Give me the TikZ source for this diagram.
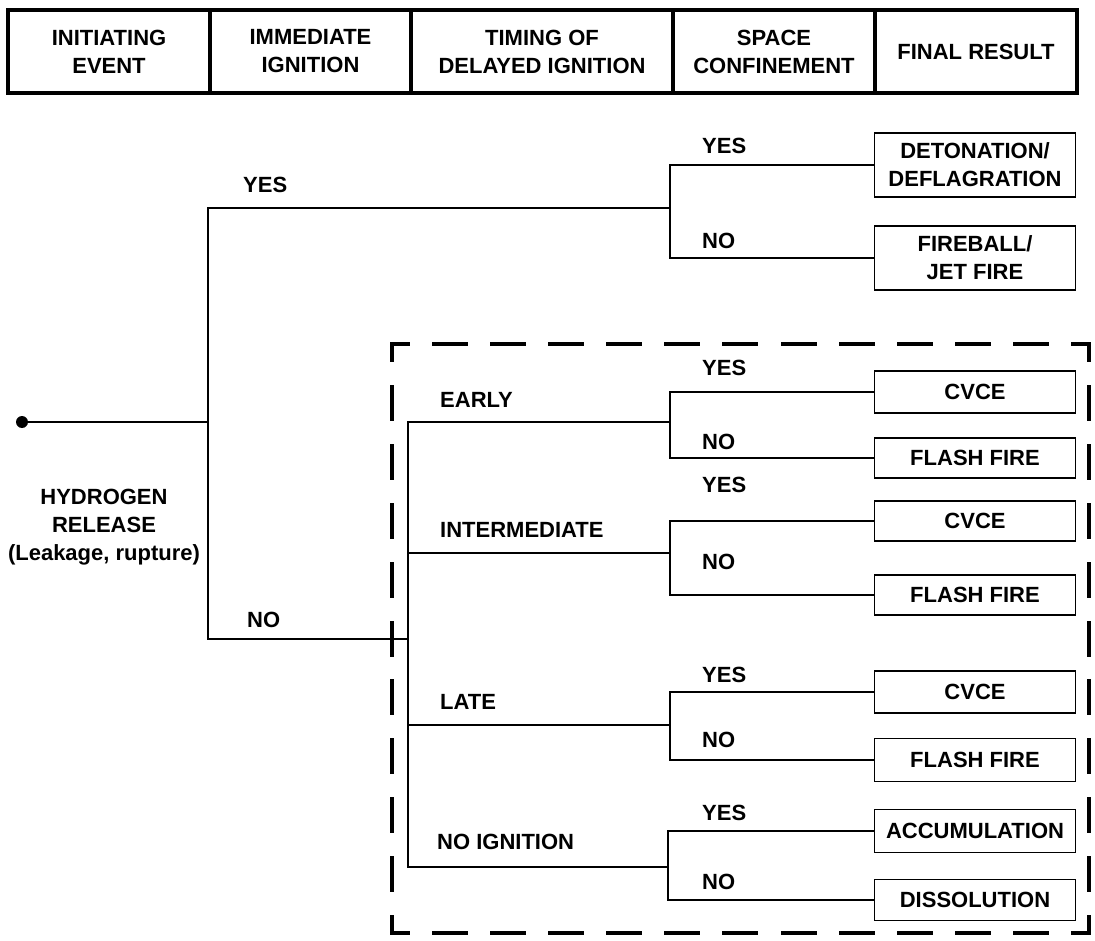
\documentclass[tikz,border=0pt]{standalone}
\usepackage{fontspec}
\setmainfont{Liberation Sans}
\usetikzlibrary{positioning}

\begin{document}
\begin{tikzpicture}[x=1pt, y=-1pt, every node/.style={font=\bfseries\fontsize{22}{28}\selectfont}]
\tikzstyle{head}=[draw, line width=3.5pt, minimum height=83pt, inner sep=0pt, outer sep=0pt, align=center]
\tikzstyle{result}=[draw, line width=1.3pt, minimum width=201pt, inner sep=0pt, align=center]
\tikzstyle{lbl}=[anchor=west, inner sep=0pt]
\tikzstyle{branch}=[line width=1.2pt]
\tikzstyle{hdash}=[line width=4pt, line cap=rect, dash pattern=on 32pt off 26.08pt, dash phase=16pt]
\tikzstyle{vdash}=[line width=4pt, line cap=rect, dash pattern=on 32pt off 26.9pt, dash phase=16pt]
\useasboundingbox (0,0) rectangle (1095,941);

% header row
\node[head, minimum width=202pt, anchor=west] (hinit) at (8,51.5) {INITIATING\\EVENT};
\node[head, minimum width=201pt, right=0pt of hinit] (himm) {IMMEDIATE\\IGNITION};
\node[head, minimum width=262pt, right=0pt of himm] (htime) {TIMING OF\\DELAYED IGNITION};
\node[head, minimum width=202pt, right=0pt of htime] (hspace) {SPACE\\CONFINEMENT};
\node[head, minimum width=202pt, right=0pt of hspace] (hfinal) {FINAL RESULT};

% initiating event
\node[circle, fill, inner sep=0pt, minimum size=12pt] (rel) at (22,422) {};
\node[align=center] (reltxt) at (104,527) {HYDROGEN\\RELEASE\\(Leakage, rupture)};

% branch points
\coordinate (split) at (208,422);
\coordinate (ign) at (670,208);
\coordinate (noign) at (408,639);
\coordinate (early) at (670,422);
\coordinate (inter) at (670,553);
\coordinate (late) at (670,725);
\coordinate (never) at (668,867);

% final results
\node[result, minimum height=64pt] (deto) at (975,165) {DETONATION/\\DEFLAGRATION};
\node[result, minimum height=64pt] (fire) at (975,258) {FIREBALL/\\JET FIRE};
\node[result, minimum height=42pt] (cvcea) at (975,392) {CVCE};
\node[result, minimum height=40pt] (flasha) at (975,458) {FLASH FIRE};
\node[result, minimum height=40pt] (cvceb) at (975,521) {CVCE};
\node[result, minimum height=40pt] (flashb) at (975,595) {FLASH FIRE};
\node[result, minimum height=42pt] (cvcec) at (975,692) {CVCE};
\node[result, minimum height=43pt] (flashc) at (975,760) {FLASH FIRE};
\node[result, minimum height=43pt] (accu) at (975,831) {ACCUMULATION};
\node[result, minimum height=41pt] (diss) at (975,900) {DISSOLUTION};

% tree
\draw[branch] (rel) -- (split);
\draw[branch] (split) |- (ign);
\draw[branch] (split) |- (noign);
\draw[branch] (ign) |- (deto.west);
\draw[branch] (ign) |- (fire.west);
\draw[branch] (noign) |- (early);
\draw[branch] (noign) |- (inter);
\draw[branch] (noign) |- (late);
\draw[branch] (noign) |- (never);
\draw[branch] (early) |- (cvcea.west);
\draw[branch] (early) |- (flasha.west);
\draw[branch] (inter) |- (cvceb.west);
\draw[branch] (inter) |- (flashb.west);
\draw[branch] (late) |- (cvcec.west);
\draw[branch] (late) |- (flashc.west);
\draw[branch] (never) |- (accu.west);
\draw[branch] (never) |- (diss.west);

% branch labels
\node[lbl] (yesimm) at (243,185) {YES};
\node[lbl] (noimm) at (247,620) {NO};
\node[lbl] (yesdeto) at (702,146) {YES};
\node[lbl] (nofire) at (702,241) {NO};
\node[lbl] (learly) at (440,400) {EARLY};
\node[lbl] (linter) at (440,530) {INTERMEDIATE};
\node[lbl] (llate) at (440,702) {LATE};
\node[lbl] (lnever) at (437,842) {NO IGNITION};
\node[lbl] (yesa) at (702,368) {YES};
\node[lbl] (noa) at (702,442) {NO};
\node[lbl] (yesb) at (702,485) {YES};
\node[lbl] (nob) at (702,562) {NO};
\node[lbl] (yesc) at (702,675) {YES};
\node[lbl] (noc) at (702,740) {NO};
\node[lbl] (yesd) at (702,813) {YES};
\node[lbl] (nod) at (702,882) {NO};

% delayed ignition frame
\coordinate (fa) at (392,344);
\coordinate (fb) at (1089,344);
\coordinate (fc) at (1089,933);
\coordinate (fd) at (392,933);
\draw[hdash] (fa) -- (fb);
\draw[hdash] (fd) -- (fc);
\draw[vdash] (fa) -- (fd);
\draw[vdash] (fb) -- (fc);
\end{tikzpicture}
\end{document}
